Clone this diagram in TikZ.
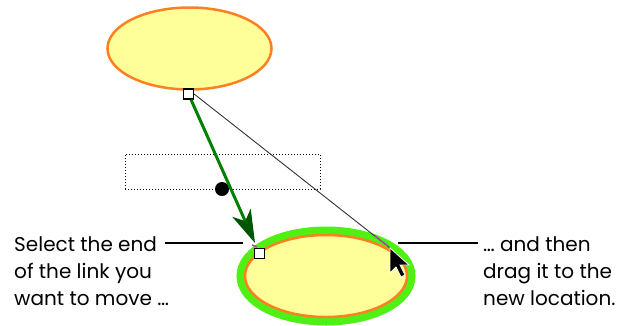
\documentclass[tikz,border=0pt]{standalone}
\usepackage{fontspec}
\setmainfont{Poppins}
\usetikzlibrary{shapes.geometric,arrows.meta,positioning}

\definecolor{bubblefill}{RGB}{255,255,153}
\definecolor{bubbleline}{RGB}{255,128,32}
\definecolor{linkgreen}{RGB}{0,128,0}
\definecolor{headgreen}{RGB}{0,85,0}
\definecolor{selgreen}{RGB}{80,240,20}

\tikzset{
  bubble/.style={ellipse, fill=bubblefill, draw=bubbleline, line width=2.5pt,
    inner sep=0pt},
  handle/.style={rectangle, draw=black, fill=white, line width=1.2pt,
    minimum size=10pt, inner sep=0pt},
  ghost/.style={rectangle, draw=black, dotted, line width=1pt, inner sep=0pt},
  link/.style={linkgreen, line width=3pt,
    -{Stealth[length=33pt, width=20pt, inset=9pt, fill=headgreen, color=headgreen]}},
  caption/.style={align=left, inner sep=0pt,
    font=\fontsize{20}{27}\selectfont}
}

\begin{document}
\begin{tikzpicture}[x=1pt, y=-1pt]
		\useasboundingbox (0,0) rectangle (620,325);
		% the two bubbles
		\node[bubble, minimum width=164pt, minimum height=82pt] (top) at (189.5,48.5) {};
		\node[bubble, minimum width=162pt, minimum height=82pt,
		      preaction={draw=selgreen, line width=17pt}] (bottom) at (326,276) {};
		% old label box and its dot
		\node[ghost, minimum width=195pt, minimum height=35pt] (box) at (222.5,171.5) {};
		\node[circle, fill=black, minimum size=14pt, inner sep=0pt] (dot) at (222,189) {};
		% the link and its handles
		\node[handle] (start) at (188.5,94) {};
		\coordinate (grab) at (255,243);
		\coordinate (drop) at (390,248);
		\draw[black!80, line width=0.9pt] (start.east) -- (drop);
		\draw[link] (start) -- (grab);
		\node[handle, anchor=north west] (end) at (253.5,248) {};
		\draw[violet!70, line width=1.5pt] (252,245) -- (257,247);
		\draw[violet!70, line width=1.5pt] (375,236) -- (388,246);
		% mouse pointer
		\draw[fill=black, draw=white, line width=0.8pt, line join=miter]
			(drop) -- ++(0,25) -- ++(6,-6) -- ++(5,10) -- ++(4,-2) -- ++(-5,-10)
			-- ++(9,0) -- cycle;
		% captions
		\node[caption, anchor=north west] (say) at (14,236) {Select the end\\of the link you\\want to move \dots};
		\node[caption, anchor=north west] (then) at (483,236) {\dots\ and then\\drag it to the\\new location.};
		\coordinate (sayend) at (243,243);
		\coordinate (thenend) at (398,243);
		\draw[line width=1.5pt] (165,243) -- (sayend);
		\draw[line width=1.5pt] (thenend) -- (478,243);
	\end{tikzpicture}
\end{document}
